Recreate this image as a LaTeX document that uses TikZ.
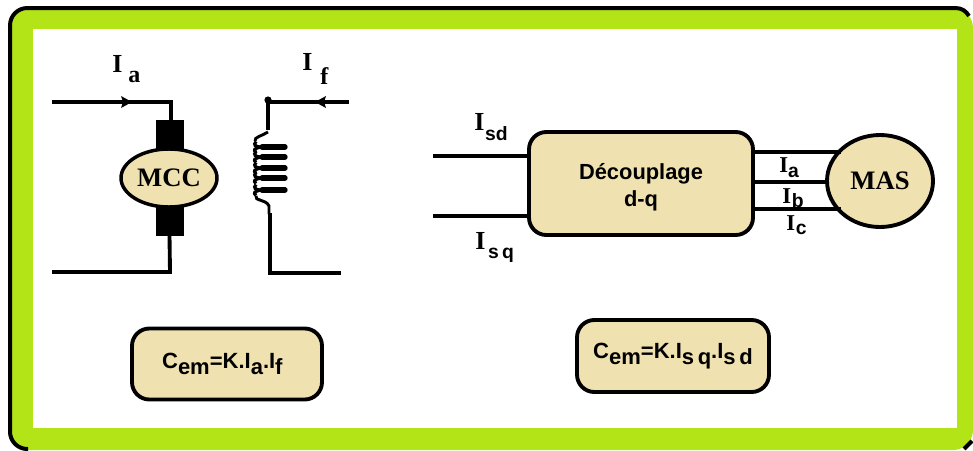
\documentclass[tikz,border=0pt]{standalone}
\usepackage{fontspec}
\setmainfont{Liberation Serif}
\setsansfont{Liberation Sans}
\usetikzlibrary{shapes.geometric}
\definecolor{framegreen}{RGB}{178,228,24}
\definecolor{boxtan}{RGB}{240,226,176}
\tikzset{
  wire/.style={line width=2.9pt},
  tanbox/.style={draw, line width=2.9pt, fill=boxtan, rounded corners=13pt, inner sep=0pt},
  lbl/.style={inner sep=0pt, anchor=base west, font=\bfseries\fontsize{19.5}{19.5}\selectfont},
  lblsmall/.style={inner sep=0pt, anchor=base west, font=\bfseries\fontsize{17}{17}\selectfont},
  cemtext/.style={font=\sffamily\bfseries\fontsize{16.5}{16.5}\selectfont},
}
% courant: I, espace, descente, indice
\newcommand{\Cur}[3]{I\kern#1\raisebox{#2}{#3}}
\newcommand{\SubSerif}[1]{\fontsize{18}{18}\selectfont #1}
\newcommand{\SubSans}[1]{\sffamily\bfseries\fontsize{14.5}{14.5}\selectfont #1}
\newcommand{\Low}[1]{\raisebox{-4pt}{#1}}

\begin{document}
\begin{tikzpicture}[x=0.75pt, y=-0.75pt]
    \useasboundingbox (0,0) rectangle (973,450);
    \fill[white] (0,0) rectangle (973,450);

    % frame
    \fill[framegreen] (10,8) [rounded corners=15pt] -- (973,8) -- (973,450) -- (10,450) -- cycle;
    \draw[line width=3pt, rounded corners=13pt] (955,8) -- (10,8) -- (10,449) -- (28,449);
    \draw[line width=3pt] (955,8) .. controls (962,8) and (966,11) .. (969,16);
    \draw[line width=3pt] (964,449) -- (972,441);
    \fill[white] (33,29) rectangle (957,428);

    % MCC
    \node[draw, fill=black, minimum width=27pt*0.75, minimum height=115pt*0.75, inner sep=0pt] (brush) at (169.5,178) {};
    \node[draw, ellipse, line width=2.6pt, fill=boxtan, minimum width=96pt*0.75, minimum height=58pt*0.75, inner sep=0pt, font=\bfseries\fontsize{20}{20}\selectfont] (mcc) at (169,178) {MCC};
    \coordinate (aIn) at (52,102);
    \coordinate (aOut) at (52,272);
    \draw[wire] (aIn) -- (171,102) -- (brush.north -| 171,0);
    \draw[wire] (aOut) -- (170,272) -- (brush.south);
    \fill (132,102) -- (121,96) -- (123,102) -- (121,108) -- cycle;
    \node[lbl] (Ia) at (112,72) {\Cur{4.5pt}{-7.5pt}{\SubSerif{a}}};

    % bobine
    \coordinate (fIn) at (349,102);
    \coordinate (fOut) at (341,273);
    \coordinate (fTop) at (268,102);
    \coordinate (fBot) at (270,273);
    \draw[wire] (fIn) -- (fTop) -- (268,130);
    \draw[wire] (270,213) -- (fBot) -- (fOut);
    \fill (315,102) -- (326,96) -- (324,102) -- (326,108) -- cycle;
    \fill (268,100) circle (3.6);
    \draw[line width=2.2pt] (268,132) .. controls (262,136) and (254,137) .. (255,141);
    \foreach \y in {147,157,168,178,190} {
        \draw[line width=2.4pt] (256,\y-5.5) .. controls (253,\y-2) and (255,\y) .. (262,\y);
        \draw[line width=4pt, line cap=round] (262,\y) -- (285,\y);
        \draw[line width=2.4pt] (262,\y) .. controls (254,\y+1) and (253,\y+3) .. (256,\y+5.5);
    }
    \draw[line width=2.2pt] (256,196) .. controls (254,201) and (266,199) .. (269,206) -- (269,214);
    \node[lbl] (If) at (302,70) {\Cur{6pt}{-11pt}{\SubSerif{f}}};

    % decouplage
    \node[tanbox, minimum width=224pt*0.75, minimum height=103pt*0.75, align=center, font=\sffamily\bfseries\fontsize{16.4}{20}\selectfont] (dec) at (641,183.5) {\rule{0pt}{18pt}Découplage\\d-q};
    \node[draw, ellipse, line width=2.9pt, fill=boxtan, minimum width=106pt*0.75, minimum height=92pt*0.75, inner sep=0pt, font=\bfseries\fontsize{20}{20}\selectfont] (mas) at (880,181) {MAS};
    \coordinate (sdIn) at (433,156);
    \coordinate (sqIn) at (433,216);
    \draw[wire] (sdIn) -- (sdIn -| dec.west);
    \draw[wire] (sqIn) -- (sqIn -| dec.west);
    \draw[wire] (dec.east |- 0,152) -- (mas.north west |- 0,152);
    \draw[wire] (dec.east |- 0,182) -- (mas.west |- 0,182);
    \draw[wire] (dec.east |- 0,209) -- (mas.south west |- 0,209);
    \node[lbl] (Isd) at (474,130) {\Cur{0.5pt}{-8pt}{\SubSans{sd}}};
    \node[lbl] (Isq) at (475,249) {\Cur{2pt}{-7pt}{\SubSans{s\,q}}};
    \node[lblsmall] (IaS) at (779,172) {\Cur{0pt}{-4pt}{\SubSans{a}}};
    \node[lblsmall] (IbS) at (782,203) {\Cur{0.5pt}{-3pt}{\SubSans{b}}};
    \node[lblsmall] (IcS) at (786,230) {\Cur{0.5pt}{-3pt}{\SubSans{c}}};

    % formules
    \node[tanbox, cemtext, minimum width=190pt*0.75, minimum height=71pt*0.75] (cemA) at (227,364) {C\Low{em}=K.I\Low{a}.I\Low{f}\kern7pt};
    \node[tanbox, cemtext, minimum width=192pt*0.75, minimum height=72pt*0.75] (cemB) at (673,356) {C\Low{em}=K.I\Low{s\,q}.I\Low{s\,d}};
\end{tikzpicture}
\end{document}
